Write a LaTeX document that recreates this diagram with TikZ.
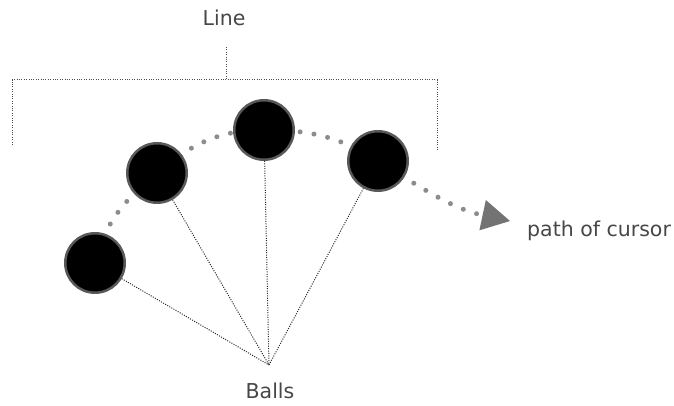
\documentclass[tikz,border=0pt]{standalone}
\usepackage{fontspec}
\setmainfont{DejaVu Sans}
\usetikzlibrary{arrows.meta,backgrounds}

\begin{document}
\begin{tikzpicture}[x=1pt, y=1pt,
    ball/.style={circle, fill=black, draw=black!65, line width=2.5pt, minimum size=59.5pt, inner sep=0pt},
    lbl/.style={font=\fontsize{20.5}{24}\selectfont, text=black!72, inner sep=0pt},
    fan/.style={draw=black!85, line width=1pt, dash pattern=on 1pt off 1.4pt},
    brk/.style={draw=black!70, line width=1pt, dash pattern=on 1pt off 1.4pt},
    cursor/.style={draw=black!45, line width=5pt, line cap=round, dash pattern=on 0pt off 14pt,
        -{Triangle[length=28pt, width=31pt, line width=0pt, color=black!55]}},
]
\useasboundingbox (0,0) rectangle (674,406);

% === LINE BRACKET ===
\node[lbl] (linelbl) at (224,388) {Line};
\coordinate (ticktop) at (226,359);
\coordinate (tickbot) at (226,326);
\coordinate (brkl) at (12,326);
\coordinate (brkr) at (437,326);
\coordinate (brkld) at (12,261);
\coordinate (brkrd) at (437,256);
\draw[brk] (ticktop) -- (tickbot);
\draw[brk] (brkld) -- (brkl) -- (brkr) -- (brkrd);

% === BALLS ===
\node[ball] (b1) at (95,143)  {};
\node[ball] (b2) at (157,233) {};
\node[ball] (b3) at (264,276) {};
\node[ball] (b4) at (378,245) {};

% Strings to the hub
\coordinate (hub) at (269,41);
\foreach \b in {b1,b2,b3,b4}
    \draw[fan] (\b) -- (hub);
\node[lbl] (ballslbl) at (270,15) {Balls};

% === PATH OF CURSOR ===
\coordinate (tip) at (510,185);
\begin{pgfonlayer}{background}
    \draw[cursor] (b1.center) to[out=76, in=220] (b2.center)
        to[out=40, in=180] (b3.center)
        to[out=0, in=148] (b4.center)
        to[out=-32, in=168] (tip);
\end{pgfonlayer}
\node[lbl, anchor=west] (cursorlbl) at (527,175) {path of cursor};

\end{tikzpicture}
\end{document}
